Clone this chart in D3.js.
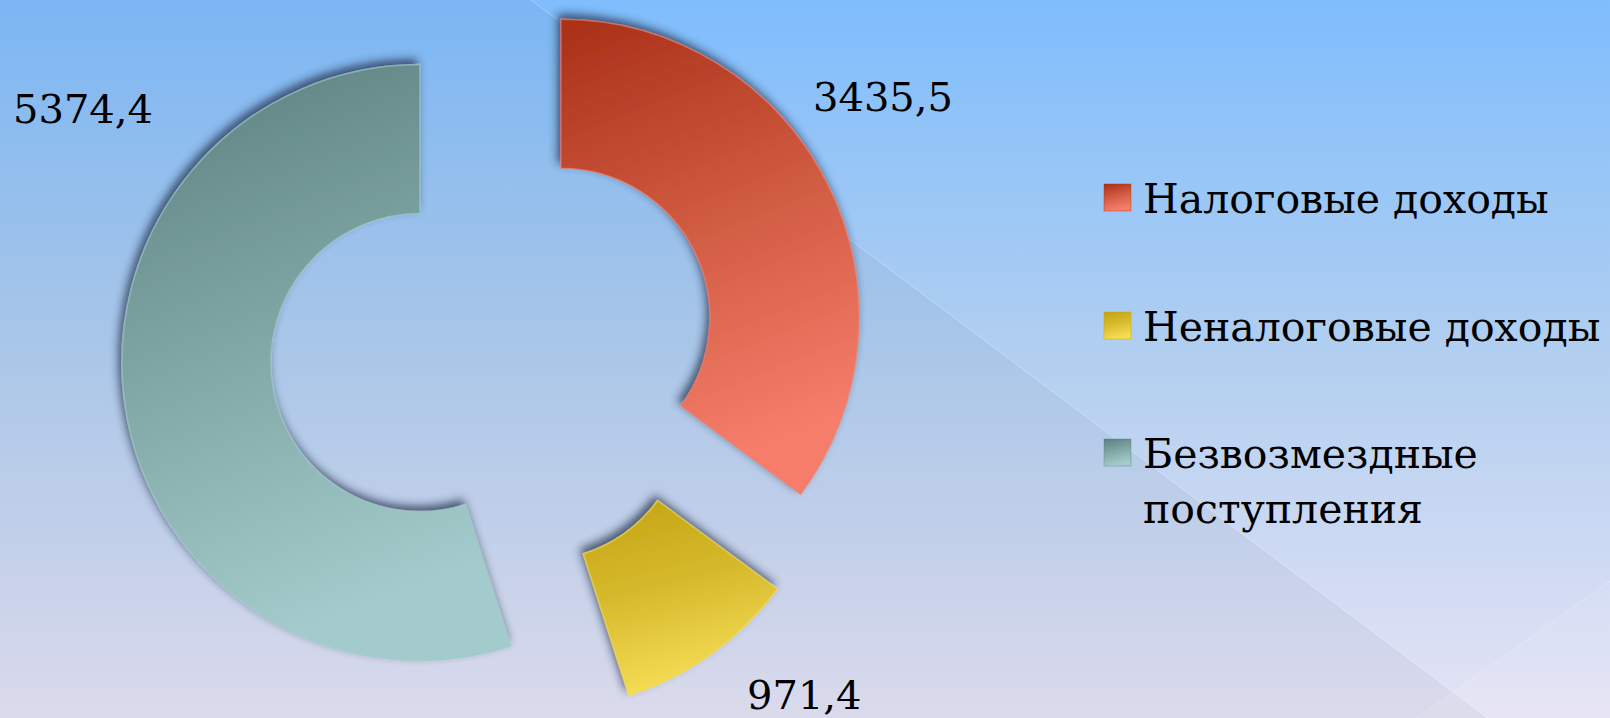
<!DOCTYPE html>
<html>
<head>
<meta charset="utf-8">
<script src="https://cdn.jsdelivr.net/npm/d3@7.9.0/dist/d3.min.js"></script>
<style>
  html, body { margin: 0; padding: 0; overflow: hidden; }
  svg { display: block; }
  text { font-family: "DejaVu Serif", "Liberation Serif", serif; fill: #000; }
</style>
</head>
<body>
<svg id="chart" width="1610" height="718"></svg>
<script>
// data
const categories = ['Налоговые доходы', 'Неналоговые доходы', 'Безвозмездные поступления'];
const values = [3435.5, 971.4, 5374.4];
const valueLabels = ['3435,5', '971,4', '5374,4'];
const legendLines = [['Налоговые доходы'], ['Неналоговые доходы'], ['Безвозмездные', 'поступления']];

const width = 1610, height = 718;
const cx = 494, cy = 351;
const outerR = 298, innerR = 149, explode = 75;

const svg = d3.select('#chart');
const defs = svg.append('defs');

// background gradient
const bg = defs.append('linearGradient').attr('id', 'bg')
  .attr('x1', 0).attr('y1', 0).attr('x2', 0).attr('y2', 1);
bg.append('stop').attr('offset', '0%').attr('stop-color', '#7fbdfd');
bg.append('stop').attr('offset', '50%').attr('stop-color', '#b2cff0');
bg.append('stop').attr('offset', '100%').attr('stop-color', '#e5e3f5');

// slice gradients (dark top -> light bottom)
const sliceColors = [
  ['#a92f17', '#cf5a40', '#f57d6b'],
  ['#c3a313', '#d6b92c', '#f4dc54'],
  ['#5b7f7f', '#7fa6a4', '#a3cbcb']
];
sliceColors.forEach((c, i) => {
  const g = defs.append('linearGradient').attr('id', 'slice' + i)
    .attr('x1', 0).attr('y1', 0).attr('x2', 0.25).attr('y2', 1);
  g.append('stop').attr('offset', '0%').attr('stop-color', c[0]);
  g.append('stop').attr('offset', '50%').attr('stop-color', c[1]);
  g.append('stop').attr('offset', '100%').attr('stop-color', c[2]);
});

// soft shadow towards the upper left
const shadow = defs.append('filter').attr('id', 'shadow')
  .attr('x', '-20%').attr('y', '-20%').attr('width', '140%').attr('height', '140%');
shadow.append('feGaussianBlur').attr('in', 'SourceAlpha').attr('stdDeviation', 5).attr('result', 'blur');
shadow.append('feOffset').attr('in', 'blur').attr('dx', -3).attr('dy', -5).attr('result', 'off');
shadow.append('feFlood').attr('flood-color', '#1a2a45').attr('result', 'col');
shadow.append('feComposite').attr('in', 'col').attr('in2', 'off').attr('operator', 'in').attr('result', 'tint');
shadow.append('feComponentTransfer').attr('in', 'tint').attr('result', 'shade')
  .append('feFuncA').attr('type', 'linear').attr('slope', 0.75);
const merge = shadow.append('feMerge');
merge.append('feMergeNode').attr('in', 'shade');
merge.append('feMergeNode').attr('in', 'SourceGraphic');

// background
svg.append('rect').attr('width', width).attr('height', height).attr('fill', 'url(#bg)');
svg.append('polygon')
  .attr('points', '0,0 531,0 1610,810 0,810')
  .attr('fill', '#5a6a85').attr('opacity', 0.07);
svg.append('line')
  .attr('x1', 531).attr('y1', 0).attr('x2', 1610).attr('y2', 810)
  .attr('stroke', '#ffffff').attr('stroke-opacity', 0.3).attr('stroke-width', 1);
svg.append('polygon')
  .attr('points', '1417,718 1610,581 1610,718')
  .attr('fill', '#ffffff').attr('opacity', 0.08);
svg.append('line')
  .attr('x1', 1417).attr('y1', 718).attr('x2', 1610).attr('y2', 581)
  .attr('stroke', '#ffffff').attr('stroke-opacity', 0.25).attr('stroke-width', 1);

// pie
const pie = d3.pie().sort(null).value(d => d);
const arcs = pie(values);
const arc = d3.arc().innerRadius(innerR).outerRadius(outerR);

const chart = svg.append('g').attr('transform', `translate(${cx},${cy})`);

chart.selectAll('path.slice')
  .data(arcs)
  .join('path')
  .attr('class', 'slice')
  .attr('transform', d => {
    const a = (d.startAngle + d.endAngle) / 2;
    return `translate(${Math.sin(a) * explode},${-Math.cos(a) * explode})`;
  })
  .attr('d', arc)
  .attr('fill', (d, i) => `url(#slice${i})`)
  .attr('filter', 'url(#shadow)')
  .attr('stroke', (d, i) => sliceColors[i][2])
  .attr('stroke-width', 1.5)
  .attr('stroke-opacity', 0.6);

// value labels
const labelPos = [[813, 111], [747, 709], [13, 123]];
svg.selectAll('text.value')
  .data(valueLabels)
  .join('text')
  .attr('class', 'value')
  .attr('x', (d, i) => labelPos[i][0])
  .attr('y', (d, i) => labelPos[i][1])
  .attr('font-size', 40)
  .text(d => d);

// legend
const legendY = [213, 341, 468];
const legend = svg.append('g');
categories.forEach((c, i) => {
  legend.append('rect')
    .attr('x', 1104).attr('y', legendY[i] - 29)
    .attr('width', 27).attr('height', 27)
    .attr('fill', `url(#slice${i})`)
    .attr('stroke', sliceColors[i][0]).attr('stroke-opacity', 0.4);
  const t = legend.append('text')
    .attr('x', 1143).attr('y', legendY[i])
    .attr('font-size', 41);
  legendLines[i].forEach((line, j) => {
    t.append('tspan').attr('x', 1143).attr('dy', j === 0 ? 0 : 55).text(line);
  });
});
</script>
</body>
</html>
